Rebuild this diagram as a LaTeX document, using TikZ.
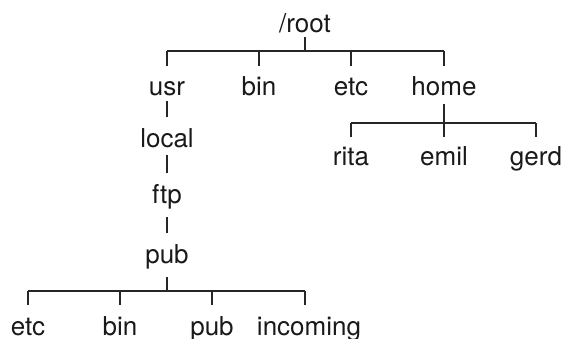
\documentclass[tikz,border=0pt]{standalone}
\usepackage{fontspec}
\setmainfont{TeX Gyre Heros}
\begin{document}
\begin{tikzpicture}[x=1pt,y=1pt,
  lbl/.style={anchor=base,inner sep=0pt,font=\fontsize{26}{30}\selectfont,text=black!90},
  edge/.style={draw=black!85,line width=1.1pt}]
\useasboundingbox (0,0) rectangle (566,-338);
% nodes
\node[lbl] (root) at (305,-32) {/root};
\node[lbl] (usr) at (167,-95) {usr};
\node[lbl] (bin) at (259,-95) {bin};
\node[lbl] (etc) at (351,-95) {etc};
\node[lbl] (home) at (444,-95) {home};
\node[lbl] (local) at (167,-147) {local};
\node[lbl] (ftp) at (167,-203) {ftp};
\node[lbl] (pub) at (167,-263) {pub};
\node[lbl] (rita) at (351,-165) {rita};
\node[lbl] (emil) at (444,-165) {emil};
\node[lbl] (gerd) at (536,-165) {gerd};
\node[lbl] (etc2) at (28,-335) {etc};
\node[lbl] (bin2) at (120,-335) {bin};
\node[lbl] (pub2) at (212,-335) {pub};
\node[lbl] (incoming) at (309,-335) {incoming};
% root fan-out
\coordinate (rootbar) at ([yshift=-19pt]root.base);
\draw[edge] ([yshift=-5pt]root.base) -- (rootbar);
\draw[edge] (rootbar -| usr.base) -- (rootbar -| home.base);
\foreach \c in {usr,bin,etc,home}
  \draw[edge] (rootbar -| \c.base) -- ([yshift=29pt]\c.base);
% usr chain
\draw[edge] ([yshift=-6pt]usr.base) -- ([yshift=30pt]local.base);
\draw[edge] ([yshift=-8pt]local.base) -- ([yshift=30pt]ftp.base);
\draw[edge] ([yshift=-14pt]ftp.base) -- ([yshift=30pt]pub.base);
% pub fan-out
\coordinate (pubbar) at ([yshift=-28pt]pub.base);
\draw[edge] ([yshift=-14pt]pub.base) -- (pubbar);
\draw[edge] (pubbar -| etc2.base) -- (pubbar -| pub.base) -- +(138,0) coordinate (pubend);
\foreach \c in {etc2,bin2,pub2}
  \draw[edge] (pubbar -| \c.base) -- ([yshift=30pt]\c.base);
\draw[edge] (pubend) -- ([xshift=-4pt,yshift=30pt]incoming.base);
% home fan-out
\coordinate (homebar) at ([yshift=-28pt]home.base);
\draw[edge] ([yshift=-9pt]home.base) -- ([yshift=28pt]emil.base);
\draw[edge] (homebar -| rita.base) -- (homebar -| gerd.base);
\foreach \c in {rita,gerd}
  \draw[edge] (homebar -| \c.base) -- ([yshift=28pt]\c.base);
\end{tikzpicture}
\end{document}
